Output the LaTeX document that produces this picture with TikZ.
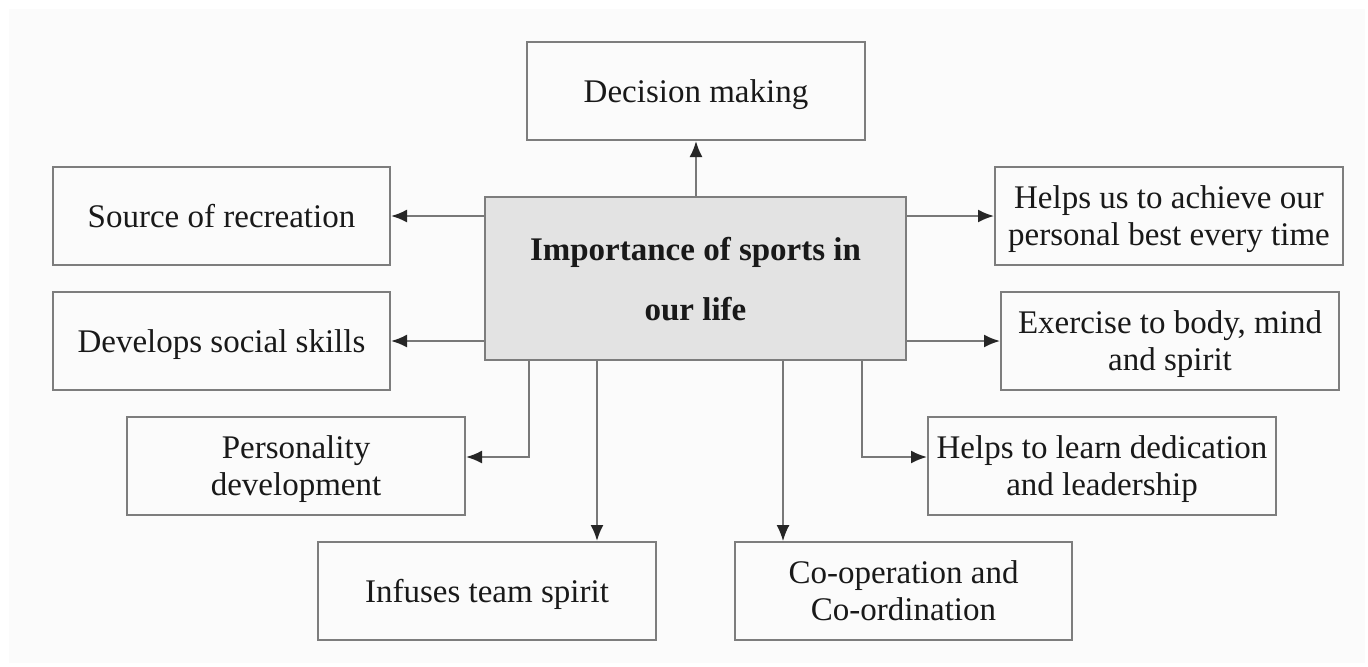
\documentclass[tikz,border=0pt]{standalone}
\usepackage{fontspec}
\setmainfont{Liberation Serif}
\usetikzlibrary{arrows.meta}
\definecolor{bordergray}{RGB}{125,125,125}
\definecolor{linegray}{RGB}{120,120,120}
\definecolor{ctrfill}{RGB}{227,227,227}
\definecolor{bgpage}{RGB}{251,251,251}
\definecolor{txt}{RGB}{25,25,25}
\tikzset{
  box/.style={draw=bordergray, line width=1pt, fill=bgpage, inner sep=0pt, align=center,
    text=txt, font=\fontsize{16.5pt}{18.5pt}\selectfont, minimum height=49pt, text depth=0pt},
  ctrbox/.style={box, fill=ctrfill, font=\fontsize{16.5pt}{30pt}\selectfont\bfseries,
    minimum width=210.5pt, minimum height=81.5pt},
  conn/.style={draw=linegray, line width=1pt, -{Latex[length=8pt,width=6.5pt,color=black!85]}},
}
\begin{document}
\begin{tikzpicture}[x=0.5pt,y=-0.5pt]
\path[fill=white] (0,0) rectangle (1368,666);
\useasboundingbox (0,0) rectangle (1368,666);
\fill[bgpage] (9,9) rectangle (1365,663);
\node[ctrbox] (ctr) at (695.5,278.5) {Importance of sports in\\our life};
\node[box, minimum width=169pt] (dm) at (696,91) {Decision making};
\node[box, minimum width=168.5pt] (src) at (221.5,216) {Source of recreation};
\node[box, minimum width=174pt] (hua) at (1169,216) {Helps us to achieve our\\personal best every time};
\node[box, minimum width=168.5pt] (dss) at (221.5,341) {Develops social skills};
\node[box, minimum width=169pt] (ex) at (1170,341) {Exercise to body, mind\\and spirit};
\node[box, minimum width=169pt] (pd) at (296,466) {Personality\\development};
\node[box, minimum width=174pt] (hld) at (1102,466) {Helps to learn dedication\\and leadership};
\node[box, minimum width=169pt] (its) at (487,591) {Infuses team spirit};
\node[box, minimum width=168.5pt] (coop) at (903.5,591) {Co-operation and\\Co-ordination};
\draw[conn] (ctr.north -| dm) -- (dm.south);
\draw[conn] (ctr.west |- src) -- (src.east);
\draw[conn] (ctr.east |- hua) -- (hua.west);
\draw[conn] (ctr.west |- dss) -- (dss.east);
\draw[conn] (ctr.east |- ex) -- (ex.west);
\draw[conn] ([xshift=-83.25pt]ctr.south) |- ([yshift=4.5pt]pd.east);
\draw[conn] ([xshift=83.25pt]ctr.south) |- ([yshift=4.5pt]hld.west);
\draw[conn] ([xshift=-49.25pt]ctr.south) -- ([xshift=-49.25pt]ctr.south |- its.north);
\draw[conn, line width=0.7pt] ([xshift=43.75pt]ctr.south) -- ([xshift=43.75pt]ctr.south |- coop.north);
\end{tikzpicture}
\end{document}
